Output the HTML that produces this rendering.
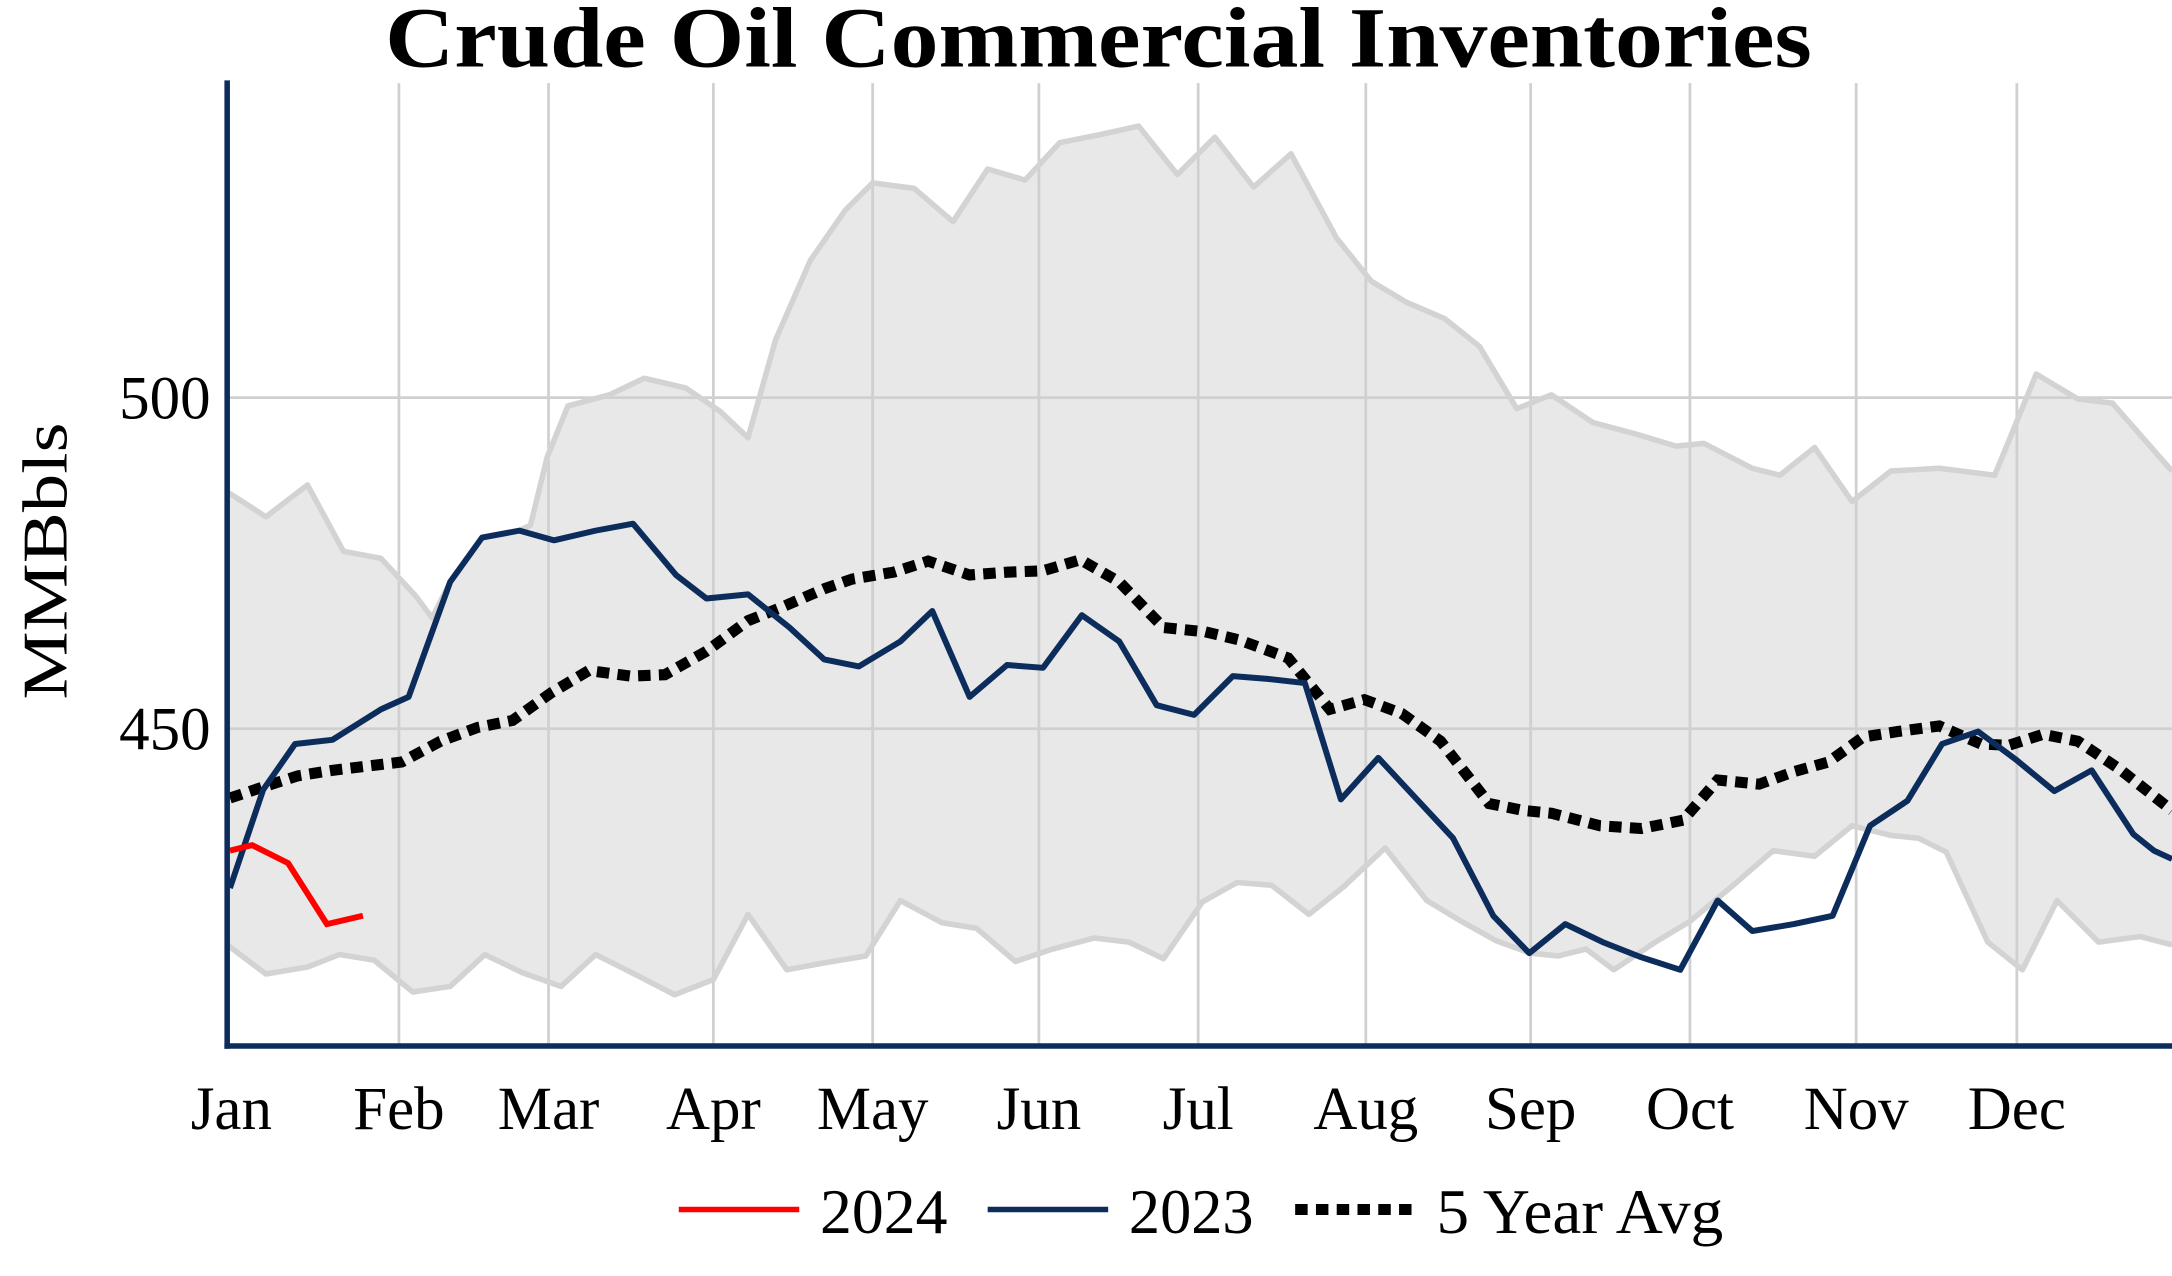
<!DOCTYPE html>
<html><head><meta charset="utf-8"><style>html,body{margin:0;padding:0;background:#fff}svg{display:block}</style></head>
<body>
<svg width="2172" height="1276" viewBox="0 0 1568 921" preserveAspectRatio="none" xmlns="http://www.w3.org/2000/svg" font-family="'Liberation Serif', serif">
<rect width="1568" height="921" fill="#fff"/>
<polygon fill="#e8e8e8" points="164,355 192,373 222,350 248,398 275,403 300,430 312,446 325,420 348,388 375,383 383,379 395,330 410,293 440,285 465,273 495,280 520,297 540,316 560,245 585,188 610,152 630,132 660,136 688,160 713,122 740,130 765,103 795,97 822,91 850,126 877,99 905,135 932,111 965,172 990,203 1015,218 1043,230 1068,250 1095,295 1120,285 1150,305 1180,313 1210,322 1230,320 1265,338 1285,343 1310,323 1337,362 1365,340 1400,338 1440,343 1470,270 1500,288 1525,291 1568,340 1568,682 1545,676 1515,680 1485,650 1460,700 1435,680 1405,615 1385,605 1365,603 1337,596 1310,618 1280,614 1250,640 1220,665 1195,680 1165,700 1145,685 1125,690 1105,688 1080,679 1055,665 1030,650 1000,612 970,640 945,660 918,639 893,637 868,651 840,692 815,680 790,677 760,685 733,694 705,670 680,666 650,650 625,690 595,695 568,700 540,660 515,707 487,718 458,703 430,689 405,712 377,702 350,689 325,712 298,716 270,693 245,689 222,698 192,703 164,682"/>
<g stroke="#d0d0d0" stroke-width="2">
<line x1="288" y1="60" x2="288" y2="755"/><line x1="396" y1="60" x2="396" y2="755"/><line x1="515" y1="60" x2="515" y2="755"/><line x1="630" y1="60" x2="630" y2="755"/><line x1="750" y1="60" x2="750" y2="755"/><line x1="865" y1="60" x2="865" y2="755"/><line x1="986" y1="60" x2="986" y2="755"/><line x1="1105" y1="60" x2="1105" y2="755"/><line x1="1220" y1="60" x2="1220" y2="755"/><line x1="1340" y1="60" x2="1340" y2="755"/><line x1="1456" y1="60" x2="1456" y2="755"/>
<line x1="164" y1="287" x2="1568" y2="287"/><line x1="164" y1="526" x2="1568" y2="526"/>
</g>
<g fill="none" stroke="#d3d3d3" stroke-width="4" stroke-linejoin="round">
<polyline points="164,355 192,373 222,350 248,398 275,403 300,430 312,446 325,420 348,388 375,383 383,379 395,330 410,293 440,285 465,273 495,280 520,297 540,316 560,245 585,188 610,152 630,132 660,136 688,160 713,122 740,130 765,103 795,97 822,91 850,126 877,99 905,135 932,111 965,172 990,203 1015,218 1043,230 1068,250 1095,295 1120,285 1150,305 1180,313 1210,322 1230,320 1265,338 1285,343 1310,323 1337,362 1365,340 1400,338 1440,343 1470,270 1500,288 1525,291 1568,340"/>
<polyline points="164,682 192,703 222,698 245,689 270,693 298,716 325,712 350,689 377,702 405,712 430,689 458,703 487,718 515,707 540,660 568,700 595,695 625,690 650,650 680,666 705,670 733,694 760,685 790,677 815,680 840,692 868,651 893,637 918,639 945,660 970,640 1000,612 1030,650 1055,665 1080,679 1105,688 1125,690 1145,685 1165,700 1195,680 1220,665 1250,640 1280,614 1310,618 1337,596 1365,603 1385,605 1405,615 1435,680 1460,700 1485,650 1515,680 1545,676 1568,682"/>
</g>
<polyline fill="none" stroke="#000" stroke-width="8" stroke-dasharray="9,6" points="166,576 190,568 215,560 240,556 265,553 290,550 318,535 345,525 370,520 398,500 425,484 455,488 480,487 510,470 540,448 565,438 595,425 615,418 645,413 670,405 700,415 727,413 753,412 780,404 808,420 840,453 870,456 895,462 930,475 960,512 985,505 1012,515 1040,535 1075,580 1100,585 1120,587 1155,596 1185,598 1215,592 1240,563 1270,566 1295,557 1320,550 1345,532 1370,528 1400,524 1430,537 1450,538 1475,530 1500,535 1530,555 1568,585"/>
<polyline fill="none" stroke="#0c2c5c" stroke-width="4.3" stroke-linejoin="round" points="166,641 190,570 213,537 240,534 275,512 295,503 325,420 348,388 375,383 400,390 430,383 457,378 488,415 510,432 540,429 570,453 595,476 620,481 650,463 673,441 700,503 727,480 753,482 781,444 808,463 835,509 862,516 890,488 915,490 942,493 968,577 995,547 1022,576 1049,605 1078,661 1104,688 1130,667 1157,680 1185,691 1213,700 1240,650 1265,672 1295,667 1323,661 1350,596 1377,578 1402,537 1428,528 1455,548 1483,571 1510,556 1540,602 1555,614 1568,620"/>
<polyline fill="none" stroke="#ff0000" stroke-width="4.3" points="166,614 182,610 208,623 236,667 262,661"/>
<line x1="164" y1="58" x2="164" y2="757" stroke="#0c2c5c" stroke-width="4"/>
<line x1="162" y1="755" x2="1568" y2="755" stroke="#0c2c5c" stroke-width="4"/>
<text x="278" y="48" font-size="62" font-weight="bold" textLength="1030" lengthAdjust="spacingAndGlyphs">Crude Oil Commercial Inventories</text>
<text transform="translate(48,405) rotate(-90)" text-anchor="middle" font-size="46" textLength="200" lengthAdjust="spacingAndGlyphs">MMBbls</text>
<g font-size="44" text-anchor="end"><text x="152" y="302">500</text><text x="152" y="541">450</text></g>
<g font-size="44" text-anchor="middle">
<text x="167" y="815">Jan</text><text x="288" y="815">Feb</text><text x="396" y="815">Mar</text><text x="515" y="815">Apr</text><text x="630" y="815">May</text><text x="750" y="815">Jun</text><text x="865" y="815">Jul</text><text x="986" y="815">Aug</text><text x="1105" y="815">Sep</text><text x="1220" y="815">Oct</text><text x="1340" y="815">Nov</text><text x="1456" y="815">Dec</text>
</g>
<line x1="490" y1="873" x2="577" y2="873" stroke="#ff0000" stroke-width="4"/>
<text x="592" y="890" font-size="46" textLength="92" lengthAdjust="spacingAndGlyphs">2024</text>
<line x1="713" y1="873" x2="800" y2="873" stroke="#0c2c5c" stroke-width="4"/>
<text x="815" y="890" font-size="46" textLength="90" lengthAdjust="spacingAndGlyphs">2023</text>
<line x1="935" y1="873" x2="1022" y2="873" stroke="#000" stroke-width="8" stroke-dasharray="9,6"/>
<text x="1037" y="890" font-size="46" textLength="207" lengthAdjust="spacingAndGlyphs">5 Year Avg</text>
</svg>
</body></html>
